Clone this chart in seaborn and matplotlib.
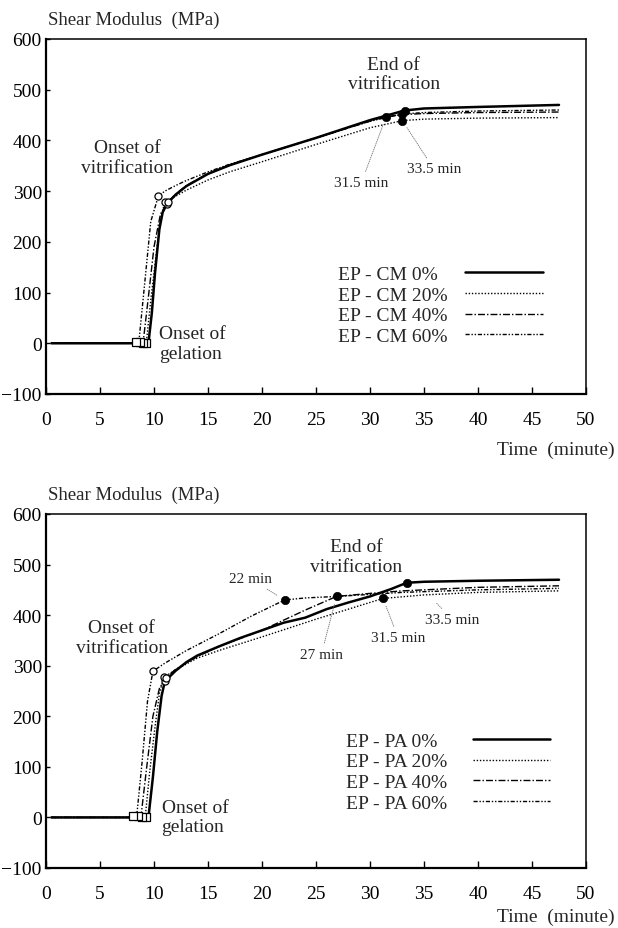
import matplotlib
matplotlib.use("Agg")
import matplotlib.pyplot as plt
from matplotlib.lines import Line2D
import seaborn as sns

# ---------------- data: EP-CM (top panel) ----------------
cm0_t = [0.5, 5, 9.3, 9.5, 9.8, 10.1, 10.5, 10.8, 11.2, 12, 13, 15, 17, 20, 25, 30, 33.2, 35, 40, 47.5]
cm0_g = [0, 0, 0, 3, 60, 140, 225, 258, 275, 293, 310, 334, 351, 372, 405, 440, 459, 463, 466, 470]
cm20_t = [0.5, 5, 9.0, 9.3, 9.7, 10.2, 10.6, 11.0, 12, 13, 15, 17, 20, 25, 30, 33.0, 35, 40, 47.5]
cm20_g = [0, 0, 0, 3, 85, 175, 245, 278, 290, 302, 322, 338, 358, 392, 425, 439, 442, 444, 445]
cm40_t = [0.5, 5, 8.7, 9.0, 9.5, 10.0, 10.6, 11.3, 12, 13, 15, 17, 20, 25, 30, 31.5, 33, 35, 40, 47.5]
cm40_g = [0, 0, 0, 3, 95, 190, 255, 279, 294, 311, 335, 352, 372, 405, 438, 447, 451, 453, 455, 456]
cm60_t = [0.5, 5, 8.3, 8.6, 9.1, 9.7, 10.4, 11, 12, 13, 15, 17, 20, 25, 30, 33, 35, 40, 47.5]
cm60_g = [0, 0, 0, 3, 110, 240, 290, 300, 311, 321, 338, 353, 372, 405, 438, 452, 455, 458, 460]

cm_gel_t = [9.3, 9.0, 8.7, 8.3]
cm_gel_g = [1, 1, 2, 2]
cm_vit_t = [11.2, 11.0, 11.3, 10.4]
cm_vit_g = [275, 278, 279, 290]
cm_end_t = [33.2, 33.0, 31.5, 33.0]
cm_end_g = [459, 439, 447, 452]

# ---------------- data: EP-PA (bottom panel) ----------------
pa0_t = [0.5, 5, 9.3, 9.5, 9.9, 10.3, 10.7, 11.0, 12, 13, 14, 16, 18, 20, 22, 24, 26, 28, 30, 32, 33.4, 35, 40, 47.5]
pa0_g = [0, 0, 0, 3, 80, 170, 240, 269, 290, 307, 320, 338, 355, 370, 385, 395, 412, 425, 437, 452, 464, 466, 468, 470]
pa20_t = [0.5, 5, 8.9, 9.2, 9.6, 10.1, 10.5, 10.9, 12, 14, 16, 20, 25, 31.2, 35, 40, 47.5]
pa20_g = [0, 0, 0, 3, 90, 180, 245, 277, 292, 315, 330, 357, 392, 433, 440, 445, 448]
pa40_t = [0.5, 5, 8.5, 8.8, 9.3, 9.9, 10.5, 11.1, 12, 14, 16, 20, 24, 26.9, 30, 33, 40, 47.5]
pa40_g = [0, 0, 0, 3, 95, 200, 255, 276, 293, 318, 338, 370, 410, 437, 443, 448, 455, 458]
pa60_t = [0.5, 5, 8.1, 8.4, 8.9, 9.4, 9.9, 11, 13, 16, 19, 22.1, 24, 26.9, 30, 33, 40, 47.5]
pa60_g = [0, 0, 0, 3, 110, 230, 289, 305, 330, 363, 398, 430, 434, 437, 441, 445, 450, 453]

pa_gel_t = [9.3, 8.9, 8.5, 8.1]
pa_gel_g = [1, 1, 2, 3]
pa_vit_t = [11.0, 10.9, 11.1, 9.9]
pa_vit_g = [269, 277, 276, 289]
pa_end_t = [33.4, 31.2, 26.9, 22.1]
pa_end_g = [464, 433, 437, 430]

cm_labels = ["EP - CM 0%", "EP - CM 20%", "EP - CM 40%", "EP - CM 60%"]
pa_labels = ["EP - PA 0%", "EP - PA 20%", "EP - PA 40%", "EP - PA 60%"]
x_ticks = [0, 5, 10, 15, 20, 25, 30, 35, 40, 45, 50]
y_ticks = [-100, 0, 100, 200, 300, 400, 500, 600]

# ---------------- style ----------------
sns.set_theme(style="ticks")
plt.rcParams["font.family"] = ["Liberation Serif", "DejaVu Serif"]
plt.rcParams["axes.edgecolor"] = "black"

line_styles = [
    dict(linestyle="-", lw=1.8),
    dict(linestyle=(0, (1, 1.3)), lw=1.0),
    dict(linestyle=(0, (5, 1.5, 1, 1.5)), lw=1.0),
    dict(linestyle=(0, (3, 1.3, 1, 1.3, 1, 1.3)), lw=1.0),
]

fig = plt.figure(figsize=(6.18, 9.29), dpi=100)
ax1 = fig.add_axes([46 / 618, 1 - 395 / 929, 540 / 618, 355 / 929])
ax2 = fig.add_axes([46 / 618, 1 - 869 / 929, 540 / 618, 354 / 929])


def draw_panel(ax, series, gel, vit, end, labels, text_x, line_x, leg_y):
    handles = []
    for (t, g), st in zip(series, line_styles):
        sns.lineplot(x=t, y=g, ax=ax, color="black", estimator=None, sort=False,
                     linestyle=st["linestyle"], linewidth=st["lw"])
        handles.append(ax.get_lines()[-1])
    sns.scatterplot(x=gel[0], y=gel[1], ax=ax, marker="s", s=30, color="white",
                    edgecolor="black", linewidth=0.9, zorder=5)
    sns.scatterplot(x=vit[0], y=vit[1], ax=ax, marker="o", s=26, color="white",
                    edgecolor="black", linewidth=0.9, zorder=5)
    sns.scatterplot(x=end[0], y=end[1], ax=ax, marker="o", s=36, color="black",
                    edgecolor="black", linewidth=0.5, zorder=5)
    ax.set_xlim(0, 50)
    ax.set_ylim(-100, 600)
    ax.set_xticks(x_ticks)
    ax.set_yticks(y_ticks)
    ax.set_xlabel("")
    ax.set_ylabel("")
    ax.tick_params(axis="x", direction="in", length=5, width=1, pad=12,
                   labelsize=14, top=False, colors="black")
    ax.tick_params(axis="y", direction="in", length=3, width=1, pad=3,
                   labelsize=14, right=False, colors="black")
    for side in ["left", "bottom"]:
        ax.spines[side].set_linewidth(1.6)
    for side in ["top", "right"]:
        ax.spines[side].set_linewidth(1.1)
        ax.spines[side].set_visible(True)
    # legend: text column then line column
    blank = [Line2D([], [], alpha=0) for _ in labels]
    leg_t = ax.legend(blank, labels, loc="center left",
                      bbox_to_anchor=(text_x, leg_y), bbox_transform=ax.transData,
                      frameon=False, handlelength=0, handletextpad=0, borderpad=0,
                      borderaxespad=0, labelspacing=0.16, fontsize=14)
    ax.add_artist(leg_t)
    ax.legend(handles, [" "] * 4, loc="center left",
              bbox_to_anchor=(line_x, leg_y), bbox_transform=ax.transData,
              frameon=False, handlelength=4.0, handletextpad=0, borderpad=0,
              borderaxespad=0, labelspacing=0.16, fontsize=14)


draw_panel(ax1,
           [(cm0_t, cm0_g), (cm20_t, cm20_g), (cm40_t, cm40_g), (cm60_t, cm60_g)],
           (cm_gel_t, cm_gel_g), (cm_vit_t, cm_vit_g), (cm_end_t, cm_end_g),
           cm_labels, 27.0, 38.8, 75)
draw_panel(ax2,
           [(pa0_t, pa0_g), (pa20_t, pa20_g), (pa40_t, pa40_g), (pa60_t, pa60_g)],
           (pa_gel_t, pa_gel_g), (pa_vit_t, pa_vit_g), (pa_end_t, pa_end_g),
           pa_labels, 27.8, 39.5, 90)

# ---------------- annotations ----------------
fs = 14
ax1.text(7.5, 366, "Onset of\nvitrification", ha="center", va="center", fontsize=fs)
ax1.text(10.5, -1, "Onset of\ngelation", ha="left", va="center", fontsize=fs)
ax1.text(32.2, 531, "End of\nvitrification", ha="center", va="center", fontsize=fs)
ax2.text(7.0, 356, "Onset of\nvitrification", ha="center", va="center", fontsize=fs)
ax2.text(10.7, 1, "Onset of\ngelation", ha="left", va="center", fontsize=fs)
ax2.text(28.7, 516, "End of\nvitrification", ha="center", va="center", fontsize=fs)

leader = dict(arrowstyle="-", lw=0.6, color="0.45", linestyle=(0, (1, 1.5)),
              shrinkA=1, shrinkB=6)
ax1.annotate("31.5 min", xy=(cm_end_t[2], cm_end_g[2]), xytext=(29.2, 317),
             ha="center", va="center", fontsize=11, arrowprops=leader)
ax1.annotate("33.5 min", xy=(cm_end_t[1], cm_end_g[1]), xytext=(35.9, 344),
             ha="center", va="center", fontsize=11, arrowprops=leader)
ax2.annotate("22 min", xy=(pa_end_t[3], pa_end_g[3]), xytext=(18.9, 472),
             ha="center", va="center", fontsize=11, arrowprops=leader)
ax2.annotate("27 min", xy=(pa_end_t[2], pa_end_g[2]), xytext=(25.5, 323),
             ha="center", va="center", fontsize=11, arrowprops=leader)
ax2.annotate("31.5 min", xy=(pa_end_t[1], pa_end_g[1]), xytext=(32.6, 356),
             ha="center", va="center", fontsize=11, arrowprops=leader)
ax2.annotate("33.5 min", xy=(35.6, 436), xytext=(37.6, 392),
             ha="center", va="center", fontsize=11, arrowprops=leader)

# axis titles
fig.text(48 / 618, 1 - 20 / 929, "Shear Modulus  (MPa)", ha="left", va="center", fontsize=13.5)
fig.text(48 / 618, 1 - 495 / 929, "Shear Modulus  (MPa)", ha="left", va="center", fontsize=13.5)
fig.text(615 / 618, 1 - 450 / 929, "Time  (minute)", ha="right", va="center", fontsize=14)
fig.text(615 / 618, 1 - 917 / 929, "Time  (minute)", ha="right", va="center", fontsize=14)

fig.savefig("out.png", dpi=100, facecolor="white")
